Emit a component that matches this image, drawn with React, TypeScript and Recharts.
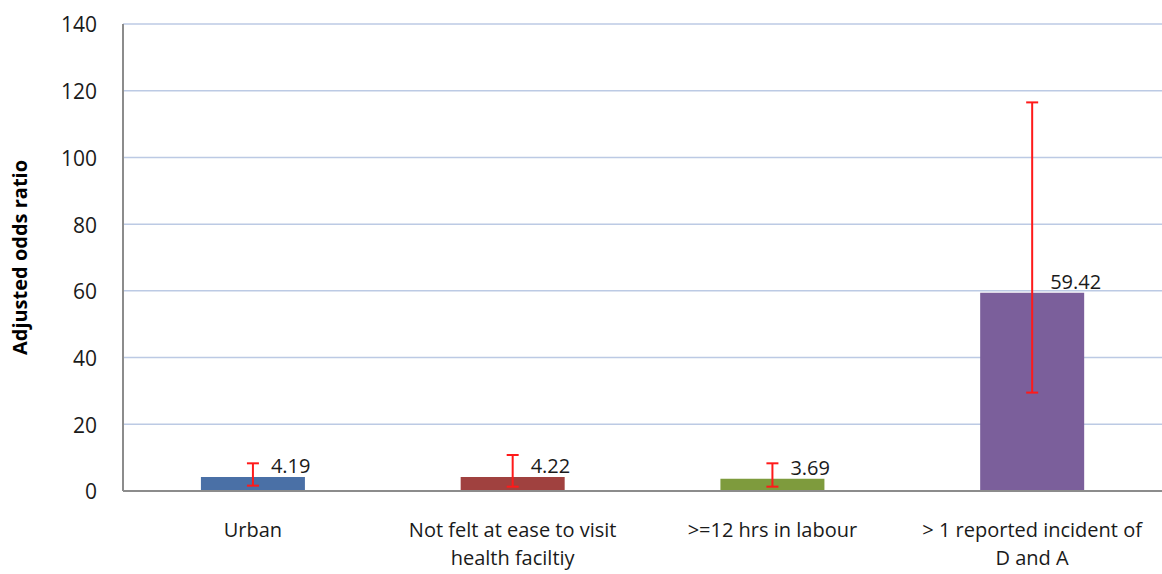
import { Bar, BarChart, CartesianGrid, Cell, ErrorBar, LabelList, XAxis, YAxis } from "recharts"

const categories = [
  "Urban",
  "Not felt at ease to visit health faciltiy",
  ">=12 hrs in labour",
  "> 1 reported incident of D and A",
]
const tickLines = [
  ["Urban"],
  ["Not felt at ease to visit", "health faciltiy"],
  [">=12 hrs in labour"],
  ["> 1 reported incident of", "D and A"],
]
const oddsRatios = [4.19, 4.22, 3.69, 59.42]
const ciLower = [1.6, 1.3, 1.3, 29.5]
const ciUpper = [8.3, 10.8, 8.3, 116.5]
const barColors = ["#4a70a6", "#a0413f", "#7e9b3d", "#7b5f9b"]
const yTicks = [0, 20, 40, 60, 80, 100, 120, 140]

const data = categories.map((name, i) => ({
  name,
  value: oddsRatios[i],
  err: [oddsRatios[i] - ciLower[i], ciUpper[i] - oddsRatios[i]],
}))

const FONT = "'Open Sans', 'Noto Sans', sans-serif"

const CategoryTick = ({ x, y, payload }: any) => {
  const lines = tickLines[payload.index] ?? [payload.value]
  return (
    <text x={x} y={y} textAnchor="middle" fill="#1a1a1a" fontSize={20} fontFamily={FONT}>
      {lines.map((line, i) => (
        <tspan key={i} x={x} dy={i === 0 ? 0 : 28}>
          {line}
        </tspan>
      ))}
    </text>
  )
}

const ValueLabel = ({ x, y, width, value }: any) => (
  <text
    x={x + width / 2 + 18}
    y={y - 9}
    fill="#1a1a1a"
    fontSize={20}
    fontFamily={FONT}
    dominantBaseline="middle"
  >
    {value}
  </text>
)

export default function App() {
  return (
    <div style={{ position: "absolute", left: 0, top: 0, background: "#fff" }}>
      <BarChart
        width={1162}
        height={574}
        data={data}
        margin={{ top: 24, right: 0, left: 0, bottom: 0 }}
        barCategoryGap="30%"
      >
        <CartesianGrid vertical={false} stroke="#bccae4" strokeWidth={1.5} />
        <XAxis
          dataKey="name"
          axisLine={{ stroke: "#8c8c8c", strokeWidth: 2 }}
          tickLine={false}
          tickSize={0}
          tickMargin={46}
          height={83}
          interval={0}
          tick={<CategoryTick />}
        />
        <YAxis
          domain={[0, 140]}
          ticks={yTicks}
          width={123}
          axisLine={{ stroke: "#8c8c8c", strokeWidth: 2 }}
          tickLine={false}
          tickSize={0}
          tickMargin={26}
          tick={{ fill: "#1a1a1a", fontSize: 21, fontFamily: FONT, dy: 1 }}
          label={{
            value: "Adjusted odds ratio",
            angle: -90,
            position: "insideLeft",
            offset: 20,
            style: { fill: "#000", fontSize: 20, fontWeight: 700, fontFamily: FONT, textAnchor: "middle" },
          }}
        />
        <Bar dataKey="value" isAnimationActive={false}>
          {data.map((_, i) => (
            <Cell key={i} fill={barColors[i]} />
          ))}
          <ErrorBar dataKey="err" stroke="#ff1a1a" strokeWidth={2} width={6} direction="y" />
          <LabelList dataKey="value" content={<ValueLabel />} />
        </Bar>
      </BarChart>
    </div>
  )
}
